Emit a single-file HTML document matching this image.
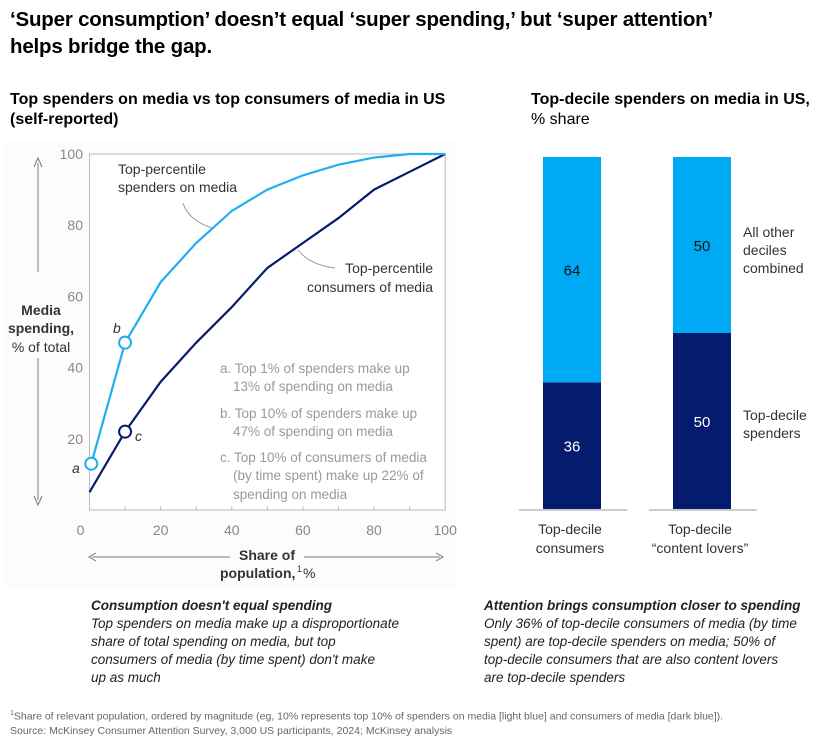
<!DOCTYPE html>
<html><head><meta charset="utf-8"><style>
body{margin:0;width:833px;height:742px;background:#fff;font-family:"Liberation Sans",sans-serif;color:#000;position:relative;overflow:hidden}
.a{position:absolute;margin:0}
</style></head><body>
<div class="a" style="left:10px;top:6px;font-size:20.5px;font-weight:bold;line-height:27px;letter-spacing:-0.2px">‘Super consumption’ doesn’t equal ‘super spending,’ but ‘super attention’<br>helps bridge the gap.</div>
<div class="a" style="left:10px;top:90px;font-size:16px;font-weight:bold;line-height:20px">Top spenders on media vs top consumers of media in US<br>(self-reported)</div>
<div class="a" style="left:531px;top:90px;font-size:16px;line-height:20px"><b>Top-decile spenders on media in US,</b><br>% share</div>
<svg class="a" style="left:0;top:0" width="833" height="742">
<g id="line"></g>
<g id="bars"></g>
</svg>
<div class="a" style="left:91px;top:597px;font-size:13.5px;font-style:italic;line-height:18px;color:#222"><b>Consumption doesn't equal spending</b><br>Top spenders on media make up a disproportionate<br>share of total spending on media, but top<br>consumers of media (by time spent) don't make<br>up as much</div>
<div class="a" style="left:484px;top:597px;font-size:13.5px;font-style:italic;line-height:18px;color:#222"><b>Attention brings consumption closer to spending</b><br>Only 36% of top-decile consumers of media (by time<br>spent) are top-decile spenders on media; 50% of<br>top-decile consumers that are also content lovers<br>are top-decile spenders</div>
<div class="a" style="left:10px;top:707px;font-size:10.5px;line-height:14px;color:#666"><sup style="font-size:7px">1</sup>Share of relevant population, ordered by magnitude (eg, 10% represents top 10% of spenders on media [light blue] and consumers of media [dark blue]).<br>Source: McKinsey Consumer Attention Survey, 3,000 US participants, 2024; McKinsey analysis</div>
<script>
const xTicks=[0,20,40,60,80,100];
const yTicks=[20,40,60,80,100];
const spendX=[0.5,10,20,30,40,50,60,70,80,90,100];
const spendY=[13,47,64,75,84,90,94,97,99,100,100];
const consX=[0,10,20,30,40,50,60,70,80,90,100];
const consY=[5,22,36,47,57,68,75,82,90,95,100];
const barCats=['Top-decile consumers','Top-decile “content lovers”'];
const barTop=[36,50];
const barOther=[64,50];
const NS='http://www.w3.org/2000/svg';
function mk(p,t,a,txt){const e=document.createElementNS(NS,t);for(const k in a)e.setAttribute(k,a[k]);if(txt!=null)e.textContent=txt;p.appendChild(e);return e;}
const L=document.getElementById('line');
const X=v=>89.5+v*3.557, Y=v=>510-v*3.56;
let el=mk(L,'rect',{x:5,y:142,width:452,height:446,fill:'#fcfcfc'});


el=mk(L,'rect',{x:X(0),y:Y(100),width:X(100)-X(0),height:Y(0)-Y(100),fill:'#fff',stroke:'#bbb','stroke-width':1});


for(let v=10;v<100;v+=10){
 el=mk(L,'line',{x1:X(v),x2:X(v),y1:Y(0),y2:Y(0)-4,stroke:'#bbb'});
 
 
}
xTicks.forEach(v=>{el=mk(L,'text',{x:X(v)+(v===0?-9:0),y:535,'text-anchor':'middle','font-size':14,fill:'#888'},v);
 
 });
yTicks.forEach(v=>{el=mk(L,'text',{x:83,y:Y(v)+5,'text-anchor':'end','font-size':14,fill:'#888'},v);
 
 });
el=mk(L,'path',{d:'M38,163 V272 M38,358 V500 M34,167 L38,158 L42,167 M34,496 L38,505 L42,496',stroke:'#777',fill:'none'});


el=mk(L,'path',{d:'M92,557 H230 M304,557 H440 M96,553 L89,557 L96,561 M436,553 L443,557 L436,561',stroke:'#777',fill:'none'});


[['Media',315,'bold'],['spending,',333,'bold'],['% of total',352,'normal']].forEach(t=>{el=mk(L,'text',{x:41,y:t[1],'text-anchor':'middle','font-size':14,'font-weight':t[2],fill:'#333'},t[0]);
 
 });
el=mk(L,'text',{x:267,y:560,'text-anchor':'middle','font-size':14,'font-weight':'bold',fill:'#333'},'Share of');


el=mk(L,'text',{x:220,y:578,'font-size':14,'font-weight':'bold',fill:'#333'},'population,');


el=mk(L,'text',{x:297,y:572,'font-size':9,fill:'#333'},'1');


el=mk(L,'text',{x:303,y:578,'font-size':14,fill:'#333'},'%');


el=mk(L,'polyline',{points:consX.map((x,i)=>X(x)+','+Y(consY[i])).join(' '),fill:'none',stroke:'#051c6e','stroke-width':2.2});


el=mk(L,'polyline',{points:spendX.map((x,i)=>X(x)+','+Y(spendY[i])).join(' '),fill:'none',stroke:'#1eaff0','stroke-width':2.2});


[[spendX[0],spendY[0],'#1eaff0'],[spendX[1],spendY[1],'#1eaff0'],[consX[1],consY[1],'#051c6e']].forEach(m=>{
 el=mk(L,'circle',{cx:X(m[0]),cy:Y(m[1]),r:6,fill:'#fff',stroke:m[2],'stroke-width':2});
 
 });
[['a',72,473],['b',113,333],['c',135,441]].forEach(t=>{el=mk(L,'text',{x:t[1],y:t[2],'font-size':14,'font-style':'italic',fill:'#333'},t[0]);
 
 });
[['Top-percentile',118,174],['spenders on media',118,192]].forEach(t=>{el=mk(L,'text',{x:t[1],y:t[2],'font-size':14,fill:'#333'},t[0]);
 
 });
[['Top-percentile',433,273],['consumers of media',433,292]].forEach(t=>{el=mk(L,'text',{x:t[1],y:t[2],'font-size':14,fill:'#333','text-anchor':'end'},t[0]);
 
 });
el=mk(L,'path',{d:'M183,203 Q188,220 212,228 M298,250 Q310,265 335,268',stroke:'#999',fill:'none'});


[['a. Top 1% of spenders make up',220,373],['13% of spending on media',233,391],['b. Top 10% of spenders make up',220,418],['47% of spending on media',233,436],['c. Top 10% of consumers of media',220,462],['(by time spent) make up 22% of',233,480],['spending on media',233,499]].forEach(t=>{el=mk(L,'text',{x:t[1],y:t[2],'font-size':13.5,fill:'#999'},t[0]);
 
 });
const B=document.getElementById('bars');
const bx=[543,673], bw=58, b0=509, bh=352;
const BY=v=>b0-v*bh/100;
barCats.forEach((c,i)=>{
 el=mk(B,'line',{x1:bx[i]-24,x2:bx[i]+bw+26,y1:510,y2:510,stroke:'#bbb','stroke-width':1.5});
 
 
 el=mk(B,'rect',{x:bx[i],y:BY(barTop[i]),width:bw,height:b0-BY(barTop[i]),fill:'#051c6e'});
 
 
 el=mk(B,'rect',{x:bx[i],y:BY(barTop[i]+barOther[i]),width:bw,height:BY(barTop[i])-BY(barTop[i]+barOther[i]),fill:'#00a9f4'});
 
 
 el=mk(B,'text',{x:bx[i]+bw/2,y:(BY(0)+BY(barTop[i]))/2+6,'text-anchor':'middle','font-size':15,fill:'#fff'},barTop[i]);
 
 
 el=mk(B,'text',{x:bx[i]+bw/2,y:(BY(barTop[i])+BY(100))/2+6,'text-anchor':'middle','font-size':15,fill:'#111'},barOther[i]);
 
 
 const w=c.split(' ');
 el=mk(B,'text',{x:bx[i]+bw/2-2,y:534,'text-anchor':'middle','font-size':14,fill:'#333'},w[0]);
 
 
 el=mk(B,'text',{x:bx[i]+bw/2-2,y:553,'text-anchor':'middle','font-size':14,fill:'#333'},w.slice(1).join(' '));
 
 
});
[['All other',743,237],['deciles',743,255],['combined',743,273],['Top-decile',743,420],['spenders',743,438]].forEach(t=>{el=mk(B,'text',{x:t[1],y:t[2],'font-size':14,fill:'#333'},t[0]);
 
 });
</script>
</body></html>
